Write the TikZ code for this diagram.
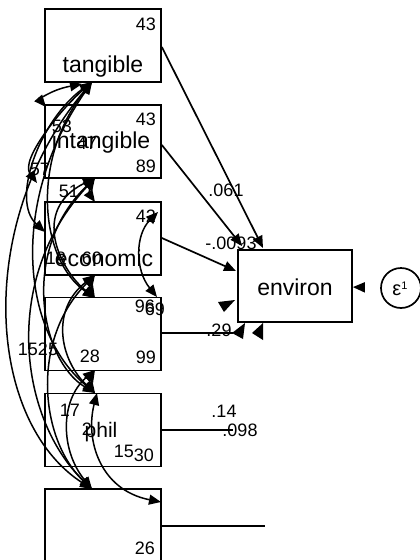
\documentclass[tikz,border=0pt]{standalone}
\usepackage{fontspec}
\setmainfont{Liberation Sans}
\usetikzlibrary{arrows.meta}
\tikzset{
  box/.style={draw, line width=1.7pt, minimum width=116pt, minimum height=73pt, inner sep=0pt},
  vname/.style={font=\fontsize{23}{23}\selectfont, inner sep=0pt},
  num/.style={font=\fontsize{18}{18}\selectfont, inner sep=0pt},
  pth/.style={line width=1.7pt, -{Triangle[length=12pt,width=10pt]}},
  cov/.style={line width=1.5pt, {Triangle[length=12pt,width=10pt]}-{Triangle[length=12pt,width=10pt]}}
}
\begin{document}
\begin{tikzpicture}[x=1pt,y=-1pt]
\useasboundingbox (0,0) rectangle (420,560);
\begin{scope}
\clip (0,0) rectangle (420,560);
% boxes
\node[box] (b1) at (103,45.5) {};
\node[box] (b2) at (103,141.5) {};
\node[box] (b3) at (103,238.5) {};
\node[box] (b4) at (103,334) {};
\node[box] (b5) at (103,430) {};
\node[box] (b6) at (103,525.5) {};
\node[box, minimum width=114pt, minimum height=72pt] (env) at (295,286) {};
\node[draw, circle, line width=1.7pt, minimum size=40pt, inner sep=0pt] (eps) at (401,288) {};
\node[inner sep=0pt, font=\fontsize{20}{20}\selectfont] (epst) at (400,289) {ε\raisebox{6pt}{\fontsize{11}{11}\selectfont 1}};

% box texts
\node[vname] (t1) at (103,67) {tangible};
\node[num] (n1) at (146,24) {43};
\node[num] (n2a) at (146,119) {43};
\node[num] (n2b) at (62,126) {53};
\node[num] (n2c) at (87,143) {47};
\node[vname] (t2) at (101,143) {intangible};
\node[num] (n2d) at (146,166) {89};
\node[num] (n2e) at (40,169) {57};
\node[num] (n2f) at (69,191) {51};
\node[num] (n3a) at (146,216) {42};
\node[num] (n3b) at (56,258) {18};
\node[num] (n3c) at (92,258) {60};
\node[vname] (t3) at (104,258) {economic};
\node[num] (n4a) at (145,306) {96};
\node[num] (n4b) at (155,309) {69};
\node[num] (n4c) at (38,349) {1525};
\node[num] (n4d) at (90,356) {28};
\node[num] (n4e) at (146,357) {99};
\node[num] (n5a) at (70,410) {17};
\node[num] (n5b) at (87,429) {2};
\node[vname, font=\fontsize{21}{21}\selectfont] (t5) at (101,432) {phil};
\node[num] (n5c) at (124,451) {15};
\node[num] (n5d) at (144,455) {30};
\node[num] (n6a) at (145,548) {26};
\node[vname] (t7) at (295,287) {environ};

% paths to environ
\coordinate (e1) at (263,248);
\coordinate (e2) at (242,246);
\coordinate (e3) at (236,271);
\draw[pth] (b1.east |- 0,47) -- (e1);
\draw[pth] (b2.east |- 0,145) -- (e2);
\draw[pth] (b3.east |- 0,238) -- (e3);
\coordinate (e4) at (233,333);
\coordinate (e5) at (233,430);
\coordinate (e6) at (265,526);
\draw[line width=1.7pt] (b4.east |- 0,333) -- (e4);
\draw[line width=1.7pt] (b5.east |- 0,430) -- (e5);
\draw[line width=1.7pt] (b6.east |- 0,526) -- (e6);
% loose arrowheads near environ
\fill (224,312) -- (218,302) -- (235,300) -- cycle;
\fill (232,333) -- (245,323) -- (243,339) -- cycle;
\fill (252,333) -- (263,323) -- (263,340) -- cycle;
\draw[pth, shorten <=17pt] (eps) -- (env);

% path labels
\node[num] (l1) at (226,190) {.061};
\node[num] (l2) at (231,243) {-.0093};
\node[num] (l3) at (219,330) {.29};
\node[num] (l4) at (224,411) {.14};
\node[num] (l5) at (240,430) {.098};

% covariances (left)
\coordinate (B1) at (92,82);
\coordinate (B1b) at (82,84);
\coordinate (B2) at (95,178);
\coordinate (B3) at (95,275);
\coordinate (B4) at (95,370);
\coordinate (B5) at (97,393);
\coordinate (T2) at (46,107);
\coordinate (T3) at (95,202);
\coordinate (L3) at (45,232);
\coordinate (T4) at (95,298);
\coordinate (T5) at (95,393);
\coordinate (T6) at (92,489);
\coordinate (R6) at (161,502);
\coordinate (R3) at (158,212);
\coordinate (R4) at (157,297);
\coordinate (M2) at (37,183);

\draw[cov] (B1b) .. controls (50,90) and (40,100) .. (T2);
\draw[cov] (B1) .. controls (40,120) and (10,200) .. (L3);
\draw[cov] (B1) .. controls (30,160) and (40,260) .. (T4);
\draw[cov] (B1) .. controls (10,200) and (20,330) .. (T5);
\draw[cov] (B1) .. controls (-25,220) and (-15,420) .. (T6);
\draw[cov] (B1) .. controls (60,110) and (20,160) .. (M2);
\draw[cov] (B2) .. controls (90,185) and (90,195) .. (T3);
\draw[cov] (B2) .. controls (30,210) and (60,270) .. (T4);
\draw[cov] (B2) .. controls (20,250) and (40,360) .. (T5);
\draw[cov] (B2) .. controls (0,280) and (20,420) .. (T6);
\draw[cov] (B3) .. controls (90,282) and (90,290) .. (T4);
\draw[cov] (B3) .. controls (50,310) and (60,360) .. (T5);
\draw[cov] (B3) .. controls (30,340) and (40,440) .. (T6);
\draw[cov] (B4) .. controls (90,378) and (90,386) .. (T5);
\draw[cov] (B4) .. controls (60,400) and (60,450) .. (T6);
\draw[cov] (R3) .. controls (135,235) and (135,270) .. (R4);
\draw[cov] (B5) .. controls (85,440) and (100,490) .. (R6);
\end{scope}
\end{tikzpicture}
\end{document}
